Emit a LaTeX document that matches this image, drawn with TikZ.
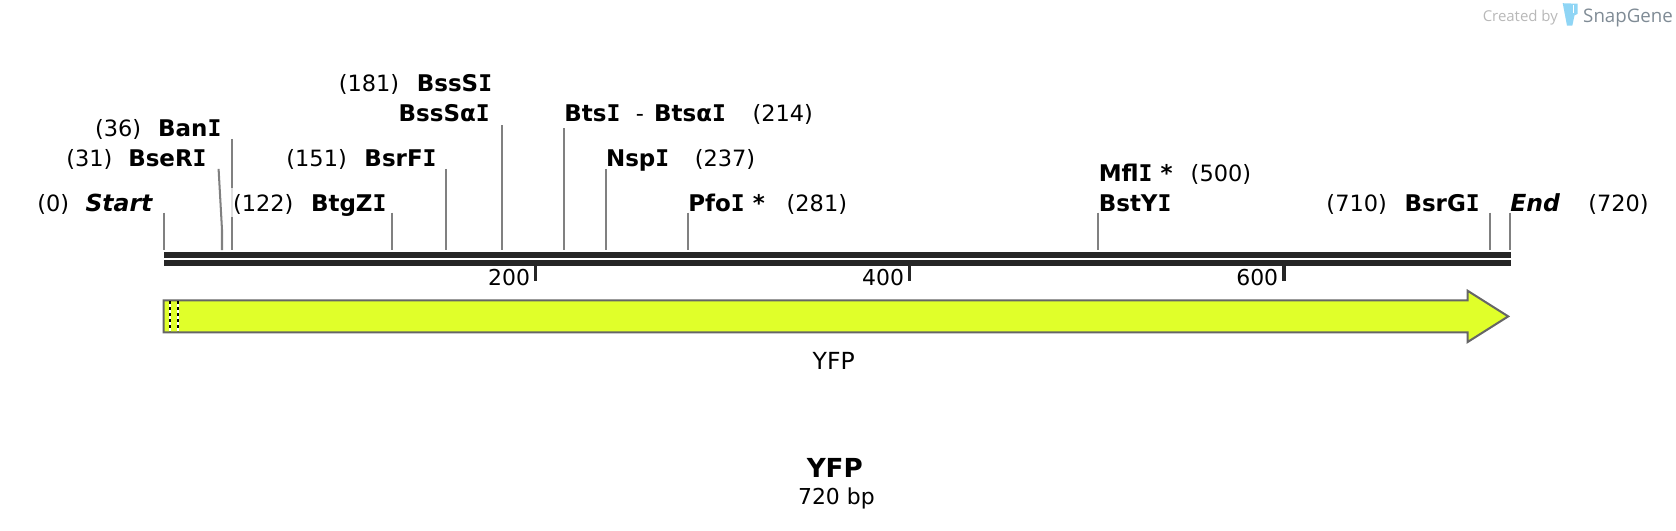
\documentclass[tikz,border=0pt]{standalone}
\usepackage{fontspec}
\setmainfont{DejaVu Sans}
\newfontfamily\wmfont{Open Sans}
\newfontfamily\serifbold[BoldFont={DejaVu Sans Mono Bold}]{DejaVu Sans Mono}
\newcommand{\SI}{{\serifbold\bfseries I}}
\definecolor{barcol}{HTML}{262626}
\definecolor{sitecol}{HTML}{808080}
\definecolor{featfill}{HTML}{E0FF2A}
\definecolor{featline}{HTML}{666666}
\definecolor{tubeblue}{HTML}{8FD5F5}
\definecolor{wmdark}{HTML}{7F8B95}
\definecolor{wmlight}{HTML}{B8B8B8}
\tikzset{
  base/.style={inner sep=0pt,outer sep=0pt,anchor=base west,font=\fontsize{21}{24}\selectfont},
  num/.style={base,text=black},
  enz/.style={base,font=\fontsize{21.5}{24}\selectfont\bfseries},
  enzit/.style={base,font=\fontsize{22}{24}\selectfont\bfseries\itshape},
  site/.style={draw=sitecol,line width=1.9pt},
  dnabar/.style={fill=barcol,draw=none},
  tick/.style={draw=barcol,line width=3.4pt},
  ticklab/.style={inner sep=0pt,anchor=base east,font=\fontsize{20.5}{24}\selectfont},
  feat/.style={draw=featline,line width=1.9pt,fill=featfill,line join=miter},
  dots/.style={draw=black,line width=1.9pt,dash pattern=on 2.8pt off 2.8pt},
}
\begin{document}
\begin{tikzpicture}[x=1pt,y=-1pt]
\useasboundingbox (0,0) rectangle (1568,495.85);
% DNA bars
\path[dnabar] (153,235.8) rectangle (1414,241.5);
\path[dnabar] (153,243.4) rectangle (1414,249.1);
% ticks
\coordinate (t2a) at (501,249); \coordinate (t2b) at (501,263);
\coordinate (t4a) at (851,249); \coordinate (t4b) at (851,263);
\coordinate (t6a) at (1201,249); \coordinate (t6b) at (1201,263);
\draw[tick] (t2a) -- (t2b); \draw[tick] (t4a) -- (t4b); \draw[tick] (t6a) -- (t6b);
\node[ticklab] (l200) at (496,267.5) {200};
\node[ticklab] (l400) at (846,267.5) {400};
\node[ticklab] (l600) at (1196,267.5) {600};
% feature
\draw[feat] (153,281) -- (1373,281) -- (1373,272) -- (1411,296) -- (1373,320) -- (1373,311) -- (153,311) -- cycle;
\coordinate (d1a) at (159,282); \coordinate (d1b) at (159,310);
\coordinate (d2a) at (166.5,282); \coordinate (d2b) at (166.5,310);
\draw[draw=white,line width=1.9pt] (d1a) -- (d1b); \draw[draw=white,line width=1.9pt] (d2a) -- (d2b);
\draw[dots] (d1a) -- (d1b); \draw[dots] (d2a) -- (d2b);
\node[base,anchor=center,font=\fontsize{22}{24}\selectfont] (fname) at (780,338) {YFP};
% site connectors
\foreach \n/\x/\yt in {start/153/199,ban/217/130,btgz/367/199,bsrf/417/158,bsss/470/117,bts/528/120,nsp/567/158,pfo/644/199,mfl/1027/199,bsrg/1394/199,fin/1413/199}{
  \coordinate (\n T) at (\x,\yt);
  \coordinate (\n B) at (\x,234);
  \draw[site] (\n T) -- (\n B);
}
\coordinate (bseT) at (204.5,158); \coordinate (bseM) at (207.7,215); \coordinate (bseB) at (207.7,234);
\draw[site] (bseT) -- (bseM) -- (bseB);
\fill[white,opacity=.75] (216,176) rectangle (218.3,203);
% labels
\node[num] (n0) at (35,198) {(0)};
\node[enzit] (eStart) at (80,198) {Start};
\node[num] (n31) at (62,155.5) {(31)};
\node[enz] (eBse) at (120,155.5) {BseR\SI};
\node[num] (n36) at (89,127.5) {(36)};
\node[enz] (eBan) at (148,127.5) {Ban\SI};
\node[num] (n122) at (218,198) {(122)};
\node[enz] (eBtg) at (291,198) {BtgZ\SI};
\node[num] (n151) at (268,155.5) {(151)};
\node[enz] (eBsrF) at (341,155.5) {BsrF\SI};
\node[num] (n181) at (317,85.5) {(181)};
\node[enz] (eBssS) at (390,85.5) {BssS\SI};
\node[enz] (eBssA) at (373,113.5) {BssSα\SI};
\node[enz] (eBts) at (528,113.5) {Bts\SI};
\node[base] (dash) at (595,113.5) {-};
\node[enz] (eBtsA) at (612,113.5) {Btsα\SI};
\node[num] (n214) at (704,113.5) {(214)};
\node[enz] (eNsp) at (567,155.5) {Nsp\SI};
\node[num] (n237) at (650,155.5) {(237)};
\node[enz] (ePfo) at (644,198) {Pfo\SI{} *};
\node[num] (n281) at (736,198) {(281)};
\node[enz] (eMfl) at (1028,170) {Mfl\SI{} *};
\node[num] (n500) at (1114,170) {(500)};
\node[enz] (eBst) at (1028,198) {BstY\SI};
\node[num] (n710) at (1241,198) {(710)};
\node[enz] (eBsrG) at (1314,198) {BsrG\SI};
\node[enzit] (eEnd) at (1413,198) {End};
\node[num] (n720) at (1486,198) {(720)};
% title
\node[base,anchor=center,font=\fontsize{24.5}{28}\selectfont\bfseries] (title) at (781,438) {YFP};
\node[base,anchor=center,font=\fontsize{20.5}{24}\selectfont] (size) at (782.5,466.5) {720 bp};
% watermark
\node[inner sep=0pt,anchor=base west,text=wmlight,font=\wmfont\fontsize{14}{16}\selectfont] (wm1) at (1387,20) {Created by};
\fill[tubeblue] (1462,3) -- (1476,3.5) -- (1476,13) -- (1473,14.5) -- (1471,24) -- (1466,24) -- cycle;
\fill[white] (1471.5,5) rectangle (1473,12);
\node[inner sep=0pt,anchor=base west,text=wmdark,font=\wmfont\fontsize{17.5}{20}\selectfont] (wm2) at (1481,21) {SnapGene};
\end{tikzpicture}
\end{document}
